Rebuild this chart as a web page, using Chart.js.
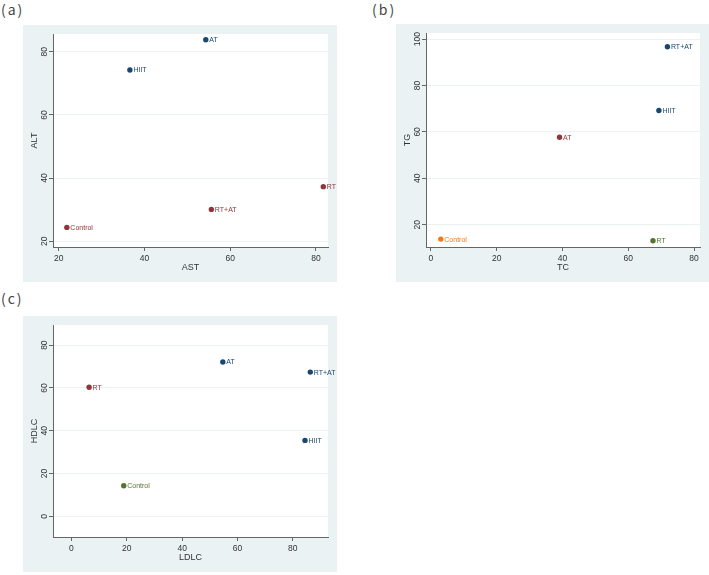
<!DOCTYPE html>
<html lang="en">
<head>
  <meta charset="UTF-8" />
  <title>Exercise groups scatter</title>
  <script src="https://cdn.jsdelivr.net/npm/chart.js"></script>
  <style>
    body { margin: 0; background: #fff; width: 709px; height: 575px; position: relative; overflow: hidden; }
    .tag { position: absolute; font-family: "Noto Sans CJK SC", sans-serif; font-size: 14px; line-height: 18px; letter-spacing: 2px; color: #444; }
    .panel { position: absolute; background: #eaf2f3; }
  </style>
</head>
<body>
  <div class="tag" style="left:1px;top:0px">(a)</div>
  <div class="tag" style="left:372px;top:0px">(b)</div>
  <div class="tag" style="left:1px;top:289px">(c)</div>

  <div class="panel" style="left:23px;top:25px;width:314px;height:257px"><canvas id="chartA"></canvas></div>
  <div class="panel" style="left:396px;top:24px;width:313px;height:258px"><canvas id="chartB"></canvas></div>
  <div class="panel" style="left:23px;top:316px;width:314px;height:256px"><canvas id="chartC"></canvas></div>

  <script>
    const groups = ["Control", "HIIT", "AT", "RT", "RT+AT"];

    // panel a
    const astValues = [21.9, 36.6, 54.3, 81.7, 55.6];
    const altValues = [24.4, 74.2, 83.8, 37.3, 30.1];
    const colorsA = ["#90353b", "#1a476f", "#1a476f", "#90353b", "#90353b"];

    // panel b
    const tcValues = [3.0, 69.3, 39.1, 67.5, 71.9];
    const tgValues = [13.8, 69.2, 57.7, 13.1, 96.7];
    const colorsB = ["#ec7b1c", "#1a476f", "#90353b", "#55752f", "#1a476f"];

    // panel c
    const ldlcValues = [18.9, 84.4, 54.7, 6.4, 86.3];
    const hdlcValues = [14.3, 35.5, 72.1, 60.3, 67.4];
    const colorsC = ["#55752f", "#1a476f", "#1a476f", "#90353b", "#1a476f"];

    const ticksA = { x: [20, 40, 60, 80], y: [20, 40, 60, 80] };
    const ticksB = { x: [0, 20, 40, 60, 80], y: [20, 40, 60, 80, 100] };
    const ticksC = { x: [0, 20, 40, 60, 80], y: [0, 20, 40, 60, 80] };

    const axisColor = "#666";
    const textColor = "#333";
    const family = "'Liberation Sans', Arial, sans-serif";
    const font = { family: family, size: 8.5 };
    const titleFont = { family: family, size: 9 };

    // white plot region
    const plotBg = {
      id: "plotBg",
      beforeDraw(chart) {
        const a = chart.chartArea, ctx = chart.ctx;
        ctx.save();
        ctx.fillStyle = "#fff";
        ctx.fillRect(a.left, a.top, a.right - a.left, a.bottom - a.top);
        ctx.restore();
      }
    };

    // stata style: y tick labels turned 90 degrees, centred on the tick
    const yLabels = {
      id: "yLabels",
      afterDraw(chart) {
        const y = chart.scales.y, ctx = chart.ctx;
        const xPos = chart.chartArea.left - 8.5;
        ctx.save();
        ctx.font = "8.5px " + family;
        ctx.fillStyle = textColor;
        ctx.textAlign = "center";
        ctx.textBaseline = "middle";
        y.ticks.forEach(t => {
          ctx.save();
          ctx.translate(xPos, y.getPixelForValue(t.value));
          ctx.rotate(-Math.PI / 2);
          ctx.fillText(String(t.value), 0, 0);
          ctx.restore();
        });
        ctx.restore();
      }
    };

    // marker labels at 3 o'clock
    const pointLabels = {
      id: "pointLabels",
      afterDatasetsDraw(chart) {
        const ctx = chart.ctx;
        const ds = chart.data.datasets[0];
        const meta = chart.getDatasetMeta(0);
        ctx.save();
        ctx.font = "7px " + family;
        ctx.textBaseline = "middle";
        meta.data.forEach((pt, i) => {
          ctx.fillStyle = ds.pointBackgroundColor[i];
          ctx.fillText(ds.labels[i], pt.x + 3.5, pt.y + 0.5);
        });
        ctx.restore();
      }
    };

    function makeChart(id, xs, ys, cols, ticks, xr, yr, xTitle, yTitle) {
      const pts = xs.map((v, i) => ({ x: v, y: ys[i] }));
      return new Chart(document.getElementById(id), {
        type: "scatter",
        data: {
          datasets: [{
            data: pts,
            labels: groups,
            pointBackgroundColor: cols,
            pointBorderColor: cols,
            pointRadius: 2.7,
            pointBorderWidth: 0
          }]
        },
        options: {
          responsive: true,
          maintainAspectRatio: false,
          animation: false,
          layout: { padding: { top: 9, right: 9, left: 0, bottom: 0 } },
          plugins: { legend: { display: false }, tooltip: { enabled: false } },
          scales: {
            x: {
              type: "linear", min: xr[0], max: xr[1],
              afterBuildTicks: s => { s.ticks = ticks.x.map(v => ({ value: v })); },
              afterFit: s => { s.height = 35; },
              grid: { drawOnChartArea: false, drawTicks: true, tickLength: 4, tickColor: axisColor },
              border: { color: axisColor, width: 1 },
              ticks: { color: textColor, font: font, padding: 2.5, maxRotation: 0 },
              title: { display: true, text: xTitle, color: textColor, font: titleFont, padding: { top: 0, bottom: 9.5 } }
            },
            y: {
              type: "linear", min: yr[0], max: yr[1],
              afterBuildTicks: s => { s.ticks = ticks.y.map(v => ({ value: v })); },
              afterFit: s => { s.width = 30; },
              grid: { color: "#eaf2f3", drawTicks: true, tickLength: 4, tickColor: axisColor },
              border: { color: axisColor, width: 1 },
              ticks: { color: "rgba(0,0,0,0)", font: font },
              title: { display: true, text: yTitle, color: textColor, font: titleFont, padding: { top: 6.2, bottom: 0 } }
            }
          }
        },
        plugins: [plotBg, yLabels, pointLabels]
      });
    }

    makeChart("chartA", astValues, altValues, colorsA, ticksA, [18.67, 82.8], [18.2, 85.6], "AST", "ALT");
    makeChart("chartB", tcValues, tgValues, colorsB, ticksB, [-1.5, 81.8], [10.4, 102.6], "TC", "TG");
    makeChart("chartC", ldlcValues, hdlcValues, colorsC, ticksC, [-6.65, 92.7], [-9.6, 89.4], "LDLC", "HDLC");
  </script>
</body>
</html>
